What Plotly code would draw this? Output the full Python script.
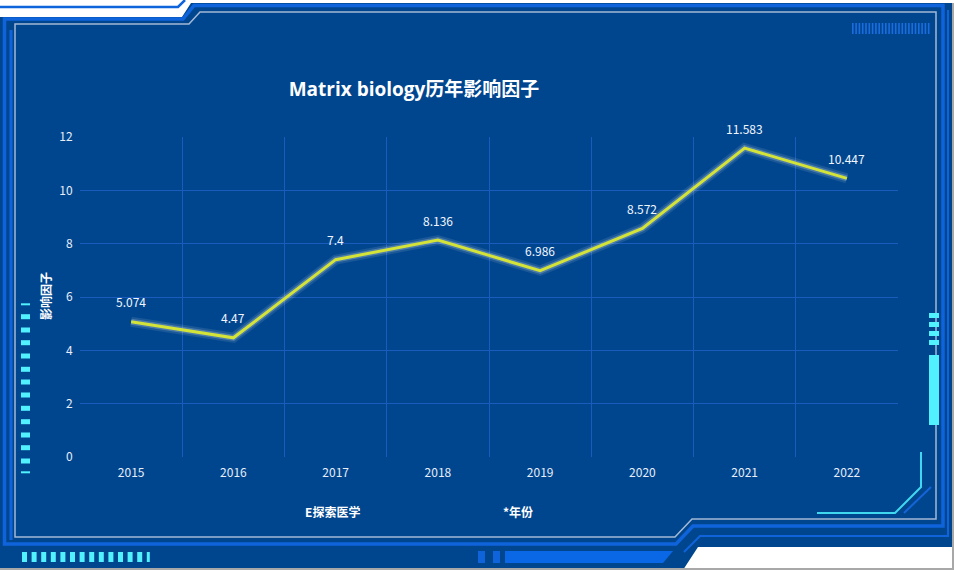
import plotly.graph_objects as go

# 数据
years = ['2015', '2016', '2017', '2018', '2019', '2020', '2021', '2022']
impact_factor = [5.074, 4.47, 7.4, 8.136, 6.986, 8.572, 11.583, 10.447]
y_ticks = [0, 2, 4, 6, 8, 10, 12]

W, H = 954, 570
L, R, T, B = 80, 56, 137, 113
PW, PH = W - L - R, H - T - B

BG = '#00468f'
GRID = '#1a5cbd'
BRIGHT = '#0f64dc'
GRAY = '#a3b9d6'
CYAN = '#52f1ff'
FONT = 'Noto Sans CJK SC, Noto Sans, sans-serif'
TITLE_FONT = 'Open Sans, Noto Sans CJK SC, sans-serif'


def fx(x):
    return (x - L) / PW


def fy(y):
    return (H - B - y) / PH


def path(points, close=False):
    s = 'M ' + ' L '.join(f'{fx(x):.5f},{fy(y):.5f}' for x, y in points)
    return s + (' Z' if close else '')


def line_shape(points, color, width, close=False, fill=None):
    return dict(type='path', xref='paper', yref='paper', layer='below',
                path=path(points, close), line=dict(color=color, width=width),
                fillcolor=fill)


def rect(x0, y0, x1, y1, color):
    return dict(type='rect', xref='paper', yref='paper', layer='below',
                x0=fx(x0), x1=fx(x1), y0=fy(y0), y1=fy(y1),
                fillcolor=color, line=dict(width=0))


shapes = []
# 外框底色
shapes.append(line_shape([(0, 17), (182, 17), (191, 3), (954, 3), (954, 547),
                          (698, 547), (683, 570), (0, 570)],
                         BG, 0, close=True, fill=BG))
# 左上白色区域的蓝线
shapes.append(line_shape([(0, 7), (178, 7), (185, 0)], BRIGHT, 2.5))
# 亮蓝边框
shapes.append(line_shape([(4.5, 544), (4.5, 19), (183, 19), (194, 5.5), (943, 5.5),
                          (943, 526), (693, 526), (676, 544)], BRIGHT, 3.5, close=True))
shapes.append(line_shape([(11, 30), (11, 540)], BRIGHT, 3))
shapes.append(line_shape([(948, 10), (948, 536), (700, 536), (684, 552)], BRIGHT, 2))
# 灰色内框
shapes.append(line_shape([(15, 537), (15, 24), (189, 24), (200, 12), (936, 12),
                          (936, 519), (692, 519), (675, 537)], GRAY, 1.5, close=True))
# 右、下灰边
shapes.append(line_shape([(953, 3), (953, 570)], '#a8a8a8', 2))
shapes.append(line_shape([(0, 569), (954, 569)], '#a8a8a8', 2))

# 底部蓝色条
shapes.append(rect(478, 551, 485, 563, BRIGHT))
shapes.append(rect(493, 551, 500, 563, BRIGHT))
shapes.append(line_shape([(505, 551), (673, 551), (663, 563), (505, 563)],
                         BRIGHT, 0, close=True, fill='#0a68e6'))

# 右上条纹
for i in range(24):
    x0 = 852 + i * 3.3
    shapes.append(rect(x0, 23, x0 + 1.6, 34, '#1a6de0'))

# 左侧青色刻度
left_marks = [304.3, 316.7, 330, 342.7, 356, 369.3, 382, 395, 408.3,
              421.7, 435, 447.7, 461, 472.3]
for i, yc in enumerate(left_marks):
    h = 2 if i in (0, len(left_marks) - 1) else 5
    shapes.append(rect(21, yc - h / 2, 30, yc + h / 2, CYAN))

# 底部青色刻度
for i in range(14):
    x0 = 22 + i * 9.6
    w = 3 if i == 13 else 5
    shapes.append(rect(x0, 552, x0 + w, 562, CYAN))

# 右侧青色块
for y0 in [313, 322, 331, 340]:
    shapes.append(rect(929, y0, 939, y0 + 5, CYAN))
shapes.append(rect(929, 355, 939, 425, CYAN))

# 右下角装饰线
shapes.append(line_shape([(921, 452), (921, 487), (895, 513), (817, 513)], '#3fd8f0', 2))
shapes.append(line_shape([(931, 487), (904, 513)], '#1565d8', 2))

xs = list(range(len(years)))

fig = go.Figure()

# 发光效果
fig.add_trace(go.Scatter(x=xs, y=impact_factor, mode='lines',
                         line=dict(color='rgba(255,255,235,0.10)', width=10),
                         hoverinfo='skip', showlegend=False))
fig.add_trace(go.Scatter(x=xs, y=impact_factor, mode='lines',
                         line=dict(color='rgba(255,255,235,0.22)', width=6),
                         hoverinfo='skip', showlegend=False))
fig.add_trace(go.Scatter(x=xs, y=impact_factor, mode='lines',
                         line=dict(color='#d4e337', width=3),
                         name='影响因子', showlegend=False))

annotations = []
for x, v in zip(xs, impact_factor):
    annotations.append(dict(x=x, y=v, text=str(v), showarrow=False, yshift=20,
                            font=dict(color='#f2f6fc', size=12, family=FONT)))

annotations.append(dict(x=fx(45), y=fy(296), xref='paper', yref='paper',
                        xanchor='center', yanchor='middle',
                        text='<b>影响因子</b>', textangle=-90, showarrow=False,
                        font=dict(color='white', size=12, family=FONT)))
annotations.append(dict(x=fx(332), y=fy(511), xref='paper', yref='paper',
                        xanchor='center', yanchor='middle',
                        text='<b>E探索医学</b>', showarrow=False,
                        font=dict(color='white', size=12, family=FONT)))
annotations.append(dict(x=fx(518), y=fy(511), xref='paper', yref='paper',
                        xanchor='center', yanchor='middle',
                        text='<b>*年份</b>', showarrow=False,
                        font=dict(color='white', size=12, family=FONT)))

fig.update_layout(
    width=W, height=H,
    margin=dict(l=L, r=R, t=T, b=B),
    paper_bgcolor='white',
    plot_bgcolor='rgba(0,0,0,0)',
    title=dict(text='<b>Matrix biology历年影响因子</b>', x=414 / W, xanchor='center',
               y=1 - 89 / H, yanchor='middle', xref='container', yref='container',
               font=dict(color='white', size=19, family=TITLE_FONT)),
    shapes=shapes,
    annotations=annotations,
    xaxis=dict(range=[-0.5, len(years) - 0.5], tickvals=xs, ticktext=years,
               showgrid=False, zeroline=False, showline=False,
               ticks='outside', ticklen=5, tickcolor='rgba(0,0,0,0)',
               tickfont=dict(color='#e8eef8', size=12, family=FONT),
               minor=dict(tickvals=[i - 0.5 for i in range(len(years) + 1)],
                          showgrid=True, gridcolor=GRID, gridwidth=1)),
    yaxis=dict(range=[0, 12], tickvals=y_ticks, showgrid=True, gridcolor=GRID,
               zeroline=False, showline=False,
               ticks='outside', ticklen=4, tickcolor='rgba(0,0,0,0)',
               tickfont=dict(color='#e8eef8', size=12, family=FONT)),
)

# 去掉页面默认边距
fig.write_html("out.html", config={'displayModeBar': False},
               post_script="document.body.style.margin='0';")
